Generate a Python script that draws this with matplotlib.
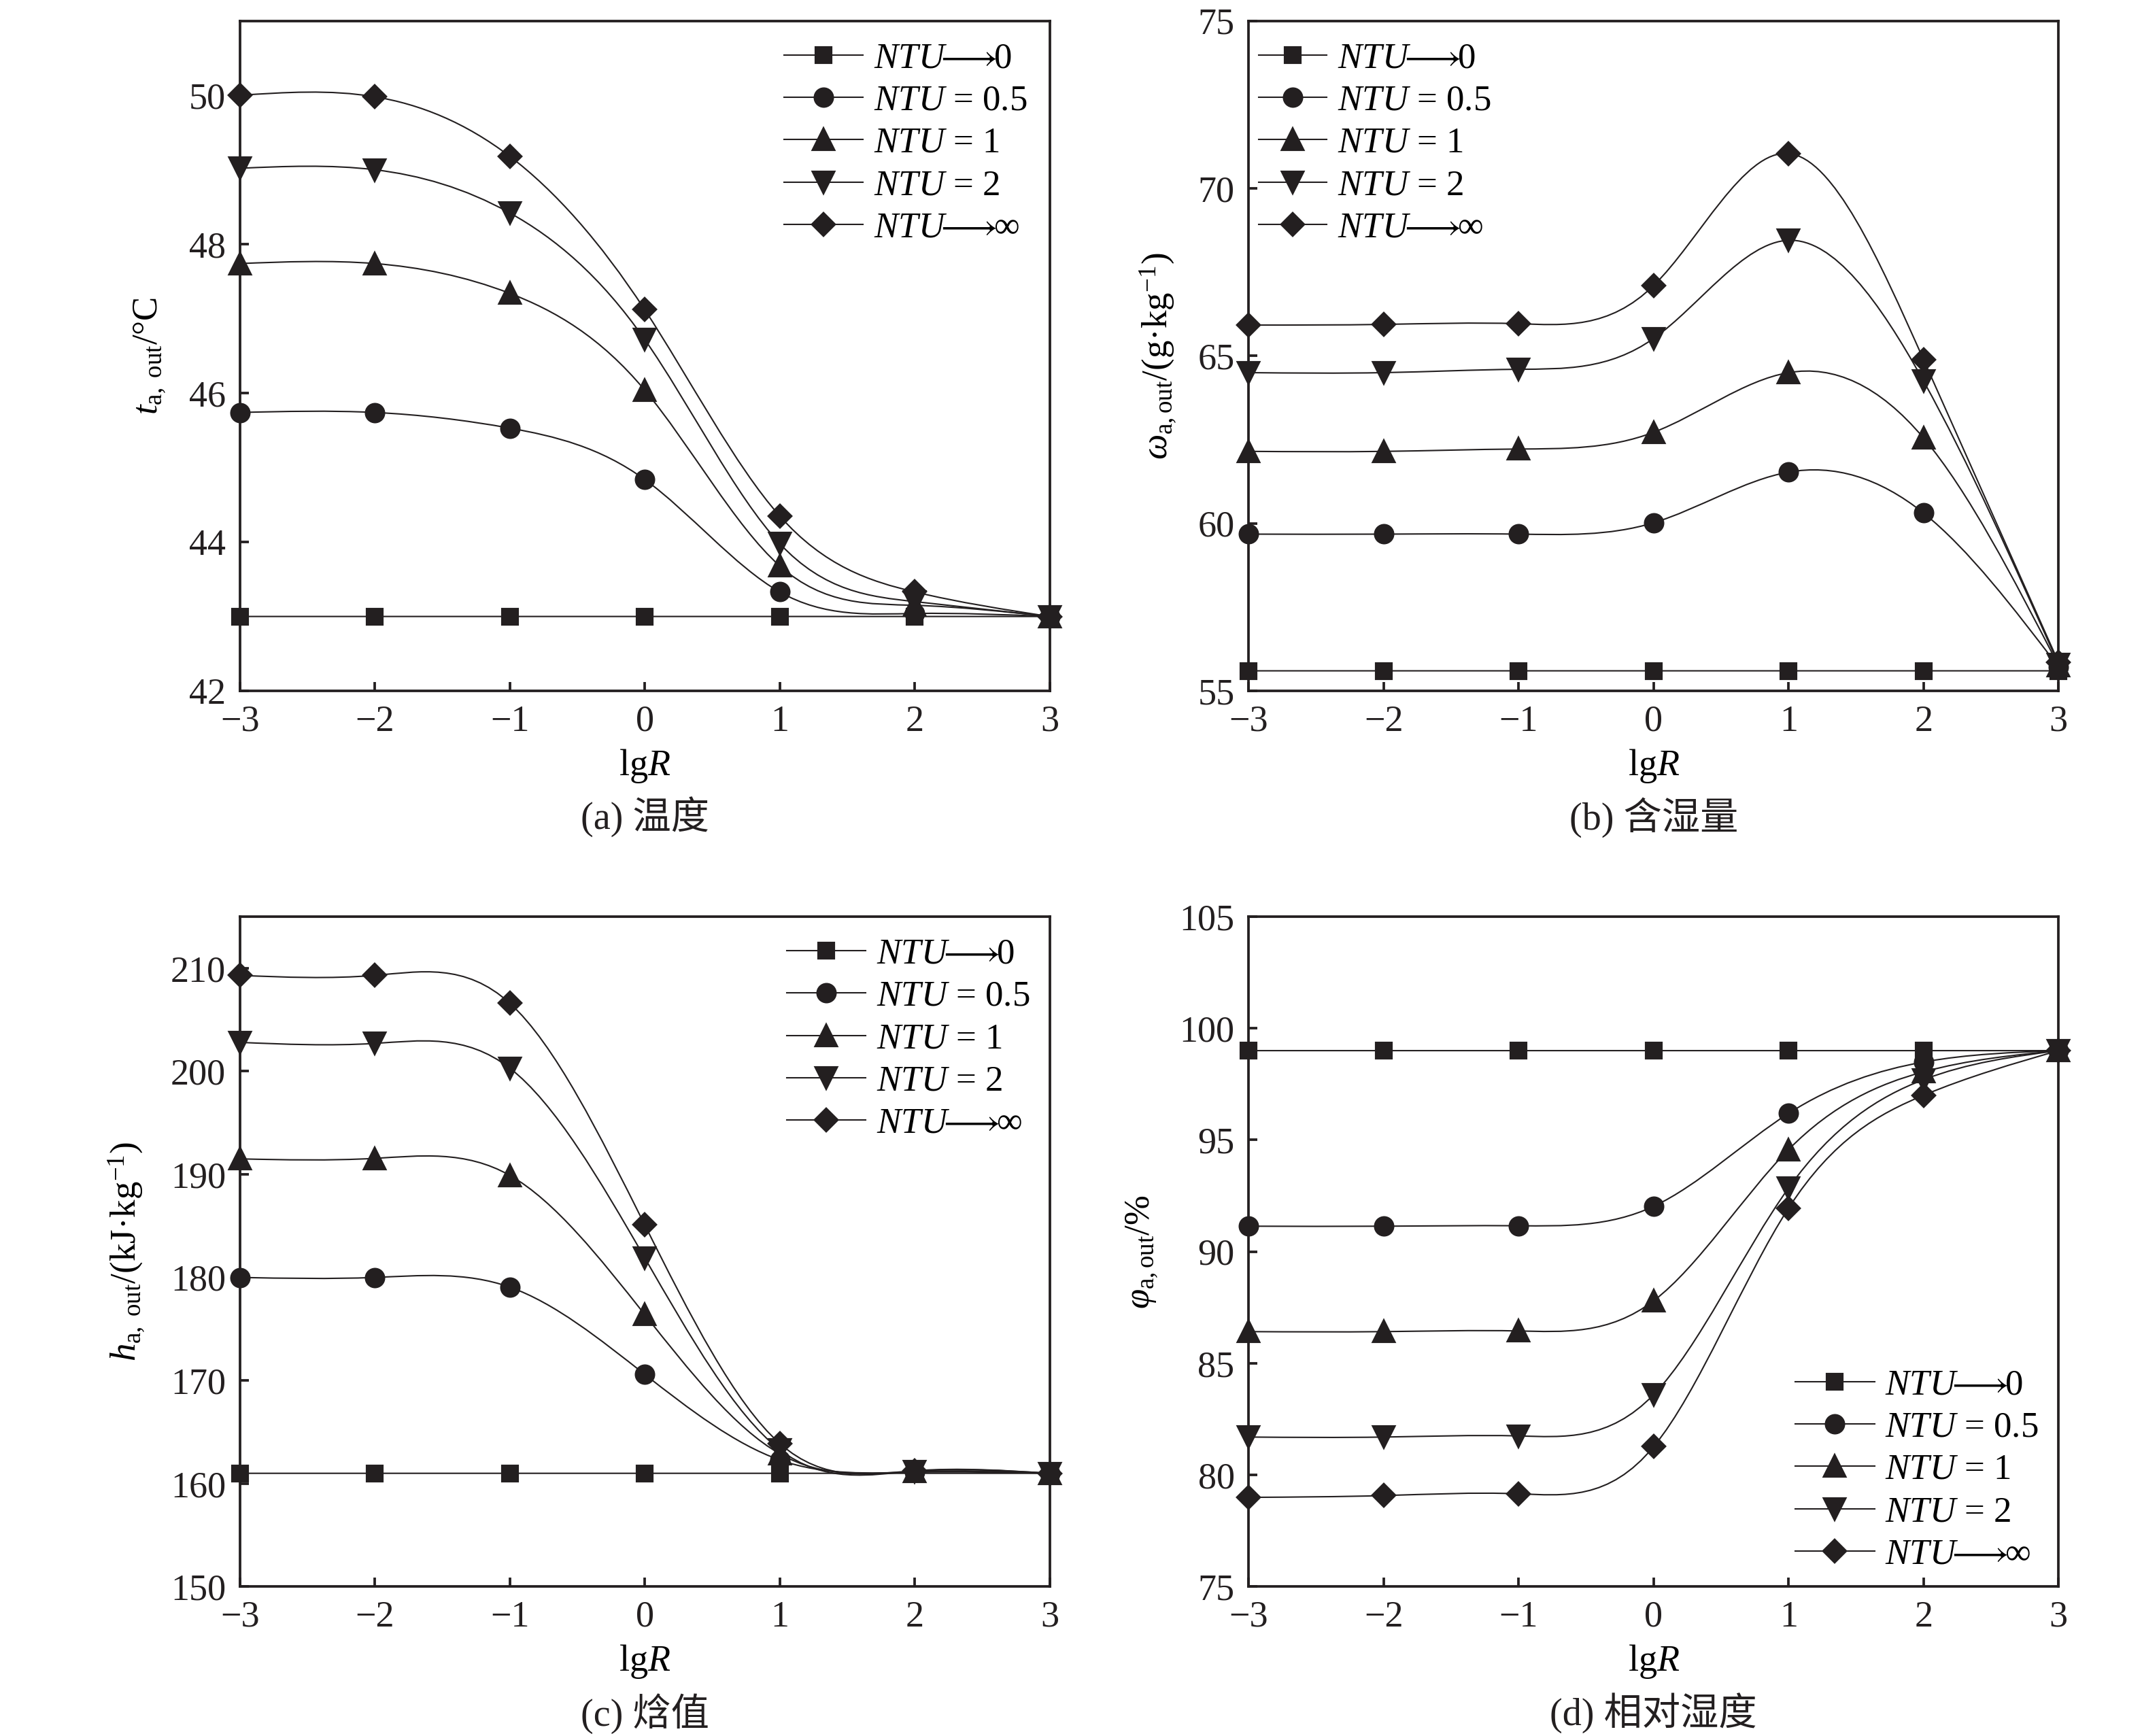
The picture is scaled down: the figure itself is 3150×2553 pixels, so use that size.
#!/usr/bin/env python3
"""4 panels: outlet air state vs lgR for several NTU values (spline-connected markers)."""

import matplotlib

matplotlib.use("Agg")
import matplotlib.pyplot as plt
import numpy as np
from matplotlib.lines import Line2D
from matplotlib.patches import PathPatch
from matplotlib.path import Path

plt.rcParams["font.family"] = ["Liberation Serif", "Noto Sans CJK SC", "DejaVu Sans"]
plt.rcParams["mathtext.fontset"] = "custom"
plt.rcParams["mathtext.rm"] = "Liberation Serif"
plt.rcParams["mathtext.it"] = "Liberation Serif:italic"
plt.rcParams["mathtext.bf"] = "Liberation Serif:bold"
plt.rcParams["mathtext.sf"] = "STIXGeneral"
plt.rcParams["font.size"] = 12.7

INK = "#231f20"

LG_R = [-3, -2, -1, 0, 1, 2, 3]
NTU_LABELS = [r"$NTU\!\!\mathsf{\longrightarrow}\!\!0$", r"$NTU$ = 0.5", r"$NTU$ = 1", r"$NTU$ = 2",
              r"$NTU\!\!\mathsf{\longrightarrow}\!\!\infty$"]

# (a) outlet temperature, °C
T_NTU0 = [43.0, 43.0, 43.0, 43.0, 43.0, 43.0, 43.0]
T_NTU05 = [45.74, 45.74, 45.53, 44.84, 43.33, 43.04, 43.0]
T_NTU1 = [47.74, 47.74, 47.34, 46.04, 43.68, 43.15, 43.0]
T_NTU2 = [49.02, 49.0, 48.42, 46.72, 43.98, 43.2, 43.0]
T_NTUINF = [50.0, 49.98, 49.18, 47.12, 44.35, 43.33, 43.0]

# (b) outlet moisture content, g/kg
W_NTU0 = [55.6, 55.6, 55.6, 55.6, 55.6, 55.6, 55.6]
W_NTU05 = [59.68, 59.68, 59.68, 60.02, 61.53, 60.31, 55.72]
W_NTU1 = [62.15, 62.15, 62.22, 62.72, 64.5, 62.55, 55.76]
W_NTU2 = [64.5, 64.5, 64.6, 65.52, 68.45, 64.25, 55.8]
W_NTUINF = [65.92, 65.94, 65.96, 67.1, 71.04, 64.89, 55.86]

# (c) outlet enthalpy, kJ/kg
H_NTU0 = [161.0, 161.0, 161.0, 161.0, 161.0, 161.0, 161.0]
H_NTU05 = [180.0, 180.0, 179.06, 170.6, 162.3, 161.1, 161.0]
H_NTU1 = [191.5, 191.55, 189.9, 176.4, 162.9, 161.15, 161.0]
H_NTU2 = [202.8, 202.7, 200.3, 181.9, 163.3, 161.2, 161.0]
H_NTUINF = [209.3, 209.3, 206.6, 185.1, 163.9, 161.25, 161.0]

# (d) outlet relative humidity, %
P_NTU0 = [99.0, 99.0, 99.0, 99.0, 99.0, 99.0, 99.0]
P_NTU05 = [91.14, 91.14, 91.16, 92.03, 96.19, 98.49, 99.0]
P_NTU1 = [86.42, 86.42, 86.45, 87.8, 94.57, 98.05, 99.0]
P_NTU2 = [81.7, 81.7, 81.75, 83.6, 92.85, 97.7, 99.0]
P_NTUINF = [79.0, 79.08, 79.16, 81.27, 91.95, 97.0, 99.0]

MARKERS = [("s", 5.4), ("o", 6.2), ("^", 7.0), ("v", 7.0), ("D", 5.6)]


def spline_path(x, y):
    """Natural cubic spline through the points, expressed as cubic Bezier segments."""
    x = np.asarray(x, float)
    y = np.asarray(y, float)
    n = len(x)
    h = np.diff(x)
    a = np.zeros((n, n))
    b = np.zeros(n)
    a[0, 0] = a[-1, -1] = 1.0
    for i in range(1, n - 1):
        a[i, i - 1] = h[i - 1]
        a[i, i] = 2 * (h[i - 1] + h[i])
        a[i, i + 1] = h[i]
        b[i] = 6 * ((y[i + 1] - y[i]) / h[i] - (y[i] - y[i - 1]) / h[i - 1])
    m2 = np.linalg.solve(a, b)
    slope = np.empty(n)
    slope[:-1] = (y[1:] - y[:-1]) / h - h * (2 * m2[:-1] + m2[1:]) / 6
    slope[-1] = (y[-1] - y[-2]) / h[-1] + h[-1] * (m2[-2] + 2 * m2[-1]) / 6
    verts = [(x[0], y[0])]
    codes = [Path.MOVETO]
    for i in range(n - 1):
        d = h[i] / 3
        verts += [(x[i] + d, y[i] + d * slope[i]),
                  (x[i + 1] - d, y[i + 1] - d * slope[i + 1]),
                  (x[i + 1], y[i + 1])]
        codes += [Path.CURVE4] * 3
    return Path(verts, codes)


def draw_panel(fig, rect, series, ylim, yticks, ylabel, ylabel_xy, caption, leg_anchor, leg_len=2.2):
    ax = fig.add_axes(rect)
    for ys, (mk, ms) in zip(series, MARKERS):
        ax.add_patch(PathPatch(spline_path(LG_R, ys), fill=False, edgecolor=INK, lw=0.5, zorder=2))
        ax.plot(LG_R, ys, ls="none", marker=mk, ms=ms, color=INK, mec=INK, zorder=3, clip_on=False)
    ax.set_xlim(-3, 3)
    ax.set_ylim(*ylim)
    ax.set_xticks(LG_R)
    ax.set_yticks(yticks)
    for s in ax.spines.values():
        s.set_linewidth(0.9)
        s.set_color(INK)
    ax.tick_params(direction="in", length=3.2, width=0.9, color=INK, labelcolor=INK,
                   top=False, right=False, labelsize=13)
    ax.tick_params(axis="y", pad=5.0)
    ax.tick_params(axis="x", pad=4.8)
    ax.set_xlabel(r"lg$R$", fontsize=13, labelpad=3)
    ax.set_ylabel(ylabel, fontsize=12.7)
    ax.yaxis.set_label_coords(*ylabel_xy)
    handles = [Line2D([], [], color=INK, lw=0.5, marker=mk, ms=ms, mec=INK) for mk, ms in MARKERS]
    ax.legend(handles, NTU_LABELS, loc="upper left", bbox_to_anchor=leg_anchor, frameon=False,
              handlelength=leg_len, handletextpad=0.3, labelspacing=0.27, borderaxespad=0,
              borderpad=0, fontsize=12.7)
    cx = rect[0] + rect[2] / 2
    fig.text(cx, rect[1] - 0.073, caption, ha="center", va="center", fontsize=13.5, color=INK)
    return ax


def main() -> None:
    fig = plt.figure(figsize=(10.5, 8.51), dpi=300)
    w, h = 0.378, 0.386
    top_y, bot_y = 0.602, 0.086
    draw_panel(fig, [0.112, top_y, w, h],
               [T_NTU0, T_NTU05, T_NTU1, T_NTU2, T_NTUINF],
               (42, 51), [42, 44, 46, 48, 50],
               r"$t_{\mathrm{a,\ out}}$/°C", (-0.09, 0.5), "(a) 温度", (0.672, 0.968))
    draw_panel(fig, [0.583, top_y, w, h],
               [W_NTU0, W_NTU05, W_NTU1, W_NTU2, W_NTUINF],
               (55, 75), [55, 60, 65, 70, 75],
               r"$\omega_{\mathrm{a,out}}$/(g·kg$^{-1}$)", (-0.088, 0.5), "(b) 含湿量", (0.012, 0.968),
               leg_len=1.9)
    draw_panel(fig, [0.112, bot_y, w, h],
               [H_NTU0, H_NTU05, H_NTU1, H_NTU2, H_NTUINF],
               (150, 215), [150, 160, 170, 180, 190, 200, 210],
               r"$h_{\mathrm{a,\ out}}$/(kJ·kg$^{-1}$)", (-0.116, 0.5), "(c) 焓值", (0.675, 0.968))
    draw_panel(fig, [0.583, bot_y, w, h],
               [P_NTU0, P_NTU05, P_NTU1, P_NTU2, P_NTUINF],
               (75, 105), [75, 80, 85, 90, 95, 100, 105],
               r"$\varphi_{\mathrm{a,out}}$/%", (-0.11, 0.5), "(d) 相对湿度", (0.675, 0.325))
    fig.savefig("out.png", dpi=300)
    plt.close(fig)


if __name__ == "__main__":
    main()
